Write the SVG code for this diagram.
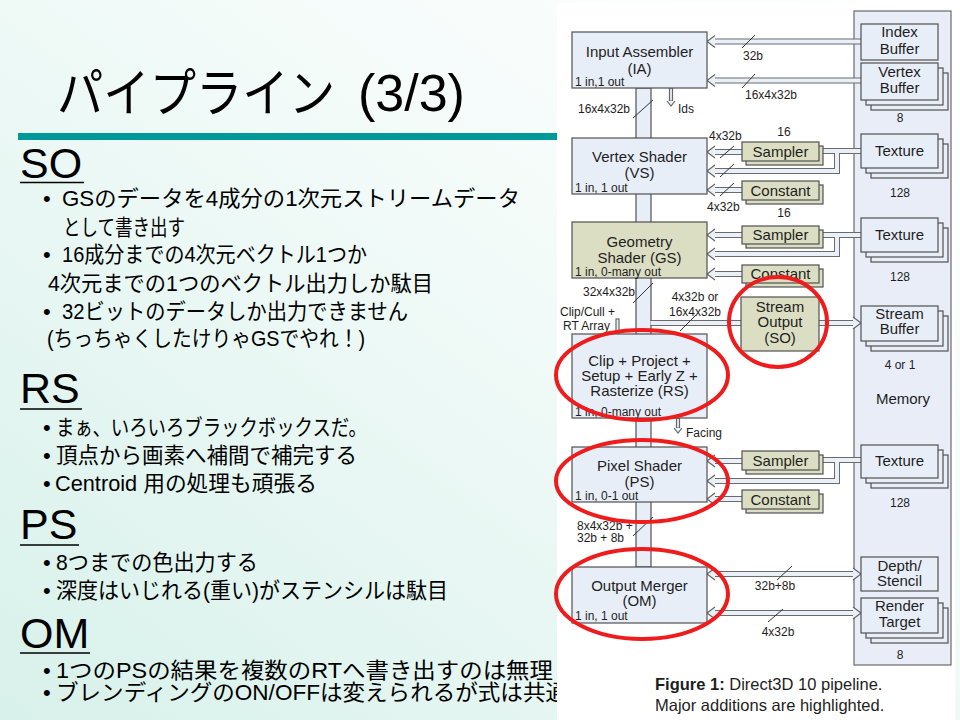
<svg xmlns="http://www.w3.org/2000/svg" width="960" height="720" viewBox="0 0 960 720">
<defs>
  <linearGradient id="bg" x1="1" y1="0" x2="0" y2="1">
    <stop offset="0" stop-color="#ffffff"/>
    <stop offset="0.4" stop-color="#f3fbf9"/>
    <stop offset="1" stop-color="#d8f1ea"/>
  </linearGradient>
  <!-- open arrowhead, tip at origin, pointing left -->
  <path id="ah" d="M8,-6 L0,0 L8,6"/>
  <!-- double-line wire centrelines (stroked twice: dark outer, light inner) -->
  <g id="wires">
    <path d="M861,41.5 H715"/>
    <path d="M861,80.5 H715"/>
    <path d="M742,152 H715"/>
    <path d="M861,151 H815 M837,151 V171 H715"/>
    <path d="M742,190 H715"/>
    <path d="M742,235 H715"/>
    <path d="M861,235 H815 M837,235 V254 H715"/>
    <path d="M742,274 H715"/>
    <path d="M650.5,323 H745"/>
    <path d="M815,323 H853"/>
    <path d="M742,461 H715"/>
    <path d="M861,460 H815 M837,460 V481 H715"/>
    <path d="M742,499 H715"/>
    <path d="M715,574 H853"/>
    <path d="M715,613 H853"/>
  </g>
  <style>
    .jp{font-family:"Liberation Sans","Noto Sans CJK JP",sans-serif;fill:#000}
    .hd1{font-size:43px}
    .bl{font-size:22px}
    .ul{stroke:#000;stroke-width:1.5}
    .d{font-family:"Liberation Sans",Arial,sans-serif;fill:#1e1e1e}
    .box{fill:#e8eef8;stroke:#505050;stroke-width:1.2}
    .kh{fill:#dbdec2;stroke:#505050;stroke-width:1.2}
    .mem{fill:#e8edf7;stroke:#6a6a6a;stroke-width:1.2}
    .lbl{font-size:15px;text-anchor:middle}
    .sm{font-size:12px}
    .mid{text-anchor:middle}
    .slash{stroke:#333;stroke-width:1}
    .head{fill:#eaf0f8;stroke:#666;stroke-width:1.2}
    .ring{fill:none;stroke:#ee1c1c;stroke-width:4}
  </style>
</defs>

<!-- slide background -->
<rect width="960" height="720" fill="url(#bg)"/>

<!-- title -->
<g id="title">
  <text class="jp" x="57" y="112" font-size="52" textLength="278" lengthAdjust="spacingAndGlyphs" font-family="'Noto Sans CJK JP',sans-serif">パイプライン</text>
  <text class="jp" x="358" y="111" font-size="52">(3/3)</text>
  <rect x="18" y="133" width="540" height="7" fill="#009999"/>
</g>

<!-- bullet text -->
<g id="notes" class="jp">
  <text class="hd1" x="20" y="178">SO</text>
  <line class="ul" x1="20" y1="182.5" x2="84" y2="182.5"/>
  <g class="bl">
    <text x="43" y="206">•</text><text x="62" y="206" textLength="458" lengthAdjust="spacingAndGlyphs">GSのデータを4成分の1次元ストリームデータ</text>
    <text x="63" y="235" textLength="122" lengthAdjust="spacingAndGlyphs">として書き出す</text>
    <text x="43" y="262">•</text><text x="62" y="262" textLength="305" lengthAdjust="spacingAndGlyphs">16成分までの4次元ベクトル1つか</text>
    <text x="48" y="291" textLength="385" lengthAdjust="spacingAndGlyphs">4次元までの1つのベクトル出力しか駄目</text>
    <text x="43" y="319">•</text><text x="62" y="319" textLength="346" lengthAdjust="spacingAndGlyphs">32ビットのデータしか出力できません</text>
    <text x="47" y="346" textLength="318" lengthAdjust="spacingAndGlyphs">(ちっちゃくしたけりゃGSでやれ！)</text>
  </g>

  <text class="hd1" x="20" y="403">RS</text>
  <line class="ul" x1="20" y1="409" x2="82" y2="409"/>
  <g class="bl">
    <text x="43" y="435">•</text><text x="56" y="435" textLength="311" lengthAdjust="spacingAndGlyphs">まぁ、いろいろブラックボックスだ。</text>
    <text x="43" y="463">•</text><text x="56" y="463" textLength="301" lengthAdjust="spacingAndGlyphs">頂点から画素へ補間で補完する</text>
    <text x="43" y="491">•</text><text x="55" y="491" textLength="262" lengthAdjust="spacingAndGlyphs">Centroid 用の処理も頑張る</text>
  </g>

  <text class="hd1" x="20" y="539">PS</text>
  <line class="ul" x1="20" y1="545" x2="79" y2="545"/>
  <g class="bl">
    <text x="43" y="570">•</text><text x="56" y="570" textLength="202" lengthAdjust="spacingAndGlyphs">8つまでの色出力する</text>
    <text x="43" y="598">•</text><text x="56" y="598" textLength="392" lengthAdjust="spacingAndGlyphs">深度はいじれる(重い)がステンシルは駄目</text>
  </g>

  <text class="hd1" x="20" y="648">OM</text>
  <line class="ul" x1="20" y1="653" x2="90" y2="653"/>
  <g class="bl">
    <text x="43" y="678">•</text><text x="56" y="678" textLength="497" lengthAdjust="spacingAndGlyphs">1つのPSの結果を複数のRTへ書き出すのは無理</text>
    <text x="43" y="700">•</text><text x="56" y="700" textLength="512" lengthAdjust="spacingAndGlyphs">ブレンディングのON/OFFは変えられるが式は共通</text>
  </g>
</g>

<!-- figure panel -->
<rect x="557" y="3" width="398" height="717" fill="#ffffff"/>

<!-- memory column -->
<g id="memory">
  <rect class="mem" x="854" y="11" width="97" height="654"/>
  <text class="d lbl" x="903" y="404">Memory</text>
</g>

<!-- connectors -->
<g id="connectors">
  <rect class="box" x="636" y="88" width="15" height="479"/>
  <use href="#wires" fill="none" stroke="#6b6b6b" stroke-width="6"/>
  <use href="#wires" fill="none" stroke="#eaf0f8" stroke-width="4"/>
  <!-- arrowheads into pipeline stages -->
  <use href="#ah" class="head" transform="translate(707,41.5)"/>
  <use href="#ah" class="head" transform="translate(707,80.5)"/>
  <use href="#ah" class="head" transform="translate(707,152)"/>
  <use href="#ah" class="head" transform="translate(707,171)"/>
  <use href="#ah" class="head" transform="translate(707,190)"/>
  <use href="#ah" class="head" transform="translate(707,235)"/>
  <use href="#ah" class="head" transform="translate(707,254)"/>
  <use href="#ah" class="head" transform="translate(707,274)"/>
  <use href="#ah" class="head" transform="translate(707,461)"/>
  <use href="#ah" class="head" transform="translate(707,481)"/>
  <use href="#ah" class="head" transform="translate(707,499)"/>
  <use href="#ah" class="head" transform="translate(707,574)"/>
  <use href="#ah" class="head" transform="translate(707,613)"/>
  <!-- arrowheads into memory -->
  <use href="#ah" class="head" transform="translate(861,323) scale(-1,1)"/>
  <use href="#ah" class="head" transform="translate(861,574) scale(-1,1)"/>
  <use href="#ah" class="head" transform="translate(861,613) scale(-1,1)"/>
  <!-- small side signals -->
  <rect class="head" x="669.5" y="88" width="3" height="13"/>
  <path class="head" d="M667,101 L671,106 L675,101"/>
  <rect class="head" x="676.5" y="418" width="3" height="10"/>
  <path class="head" d="M674,428 L678,433 L682,428"/>
  <rect class="head" x="616" y="319" width="3" height="15"/>
  <!-- bus width ticks -->
  <line class="slash" x1="742" y1="48" x2="755" y2="35"/>
  <line class="slash" x1="742" y1="88" x2="755" y2="74"/>
  <line class="slash" x1="633" y1="118" x2="653" y2="100"/>
  <line class="slash" x1="720" y1="158" x2="734" y2="146"/>
  <line class="slash" x1="720" y1="177" x2="734" y2="164"/>
  <line class="slash" x1="720" y1="196" x2="734" y2="183"/>
  <line class="slash" x1="633" y1="303" x2="653" y2="283"/>
  <line class="slash" x1="680" y1="331" x2="696" y2="315"/>
  <line class="slash" x1="633" y1="536" x2="653" y2="517"/>
  <line class="slash" x1="777" y1="580" x2="792" y2="566"/>
  <line class="slash" x1="768" y1="622" x2="783" y2="609"/>
  <!-- wire labels -->
  <g class="d sm">
    <text x="743" y="60">32b</text>
    <text x="745" y="99">16x4x32b</text>
    <text x="578" y="113">16x4x32b</text>
    <text x="678" y="113">Ids</text>
    <text x="784" y="136" class="mid">16</text>
    <text x="709" y="140">4x32b</text>
    <text x="707" y="211">4x32b</text>
    <text x="784" y="217" class="mid">16</text>
    <text x="583" y="296">32x4x32b</text>
    <text x="695" y="301" class="mid">4x32b or</text>
    <text x="695" y="316" class="mid">16x4x32b</text>
    <text x="560" y="316">Clip/Cull +</text>
    <text x="563" y="330">RT Array</text>
    <text x="686" y="437">Facing</text>
    <text x="577" y="530">8x4x32b +</text>
    <text x="577" y="542">32b + 8b</text>
    <text x="775" y="590" class="mid">32b+8b</text>
    <text x="778" y="636" class="mid">4x32b</text>
    <text x="900" y="122" class="mid">8</text>
    <text x="900" y="197" class="mid">128</text>
    <text x="900" y="281" class="mid">128</text>
    <text x="900" y="369" class="mid">4 or 1</text>
    <text x="900" y="507" class="mid">128</text>
    <text x="900" y="659" class="mid">8</text>
  </g>
</g>

<!-- pipeline stages -->
<g id="ia">
  <rect class="box" x="572" y="32" width="135" height="56"/>
  <text class="d lbl" x="639.5" y="57">Input Assembler</text>
  <text class="d lbl" x="639.5" y="74">(IA)</text>
  <text class="d sm" x="575" y="86">1 in,1 out</text>
</g>
<g id="vs">
  <rect class="box" x="572" y="138" width="135" height="56"/>
  <text class="d lbl" x="639.5" y="162">Vertex Shader</text>
  <text class="d lbl" x="639.5" y="178">(VS)</text>
  <text class="d sm" x="575" y="192">1 in, 1 out</text>
</g>
<g id="gs">
  <rect class="kh" x="572" y="222" width="135" height="56"/>
  <text class="d lbl" x="639.5" y="247">Geometry</text>
  <text class="d lbl" x="639.5" y="263">Shader (GS)</text>
  <text class="d sm" x="575" y="276">1 in, 0-many out</text>
</g>
<g id="rs">
  <rect class="box" x="572" y="334" width="135" height="84"/>
  <text class="d lbl" x="639.5" y="366">Clip + Project +</text>
  <text class="d lbl" x="639.5" y="381">Setup + Early Z +</text>
  <text class="d lbl" x="639.5" y="396">Rasterize (RS)</text>
  <text class="d sm" x="575" y="416">1 in, 0-many out</text>
</g>
<g id="ps">
  <rect class="box" x="572" y="447" width="135" height="55"/>
  <text class="d lbl" x="639.5" y="471">Pixel Shader</text>
  <text class="d lbl" x="639.5" y="487">(PS)</text>
  <text class="d sm" x="575" y="500">1 in, 0-1 out</text>
</g>
<g id="om">
  <rect class="box" x="572" y="567" width="135" height="56"/>
  <text class="d lbl" x="639.5" y="591">Output Merger</text>
  <text class="d lbl" x="639.5" y="606">(OM)</text>
  <text class="d sm" x="575" y="620">1 in, 1 out</text>
</g>
<g id="so">
  <rect class="kh" x="741" y="297" width="78" height="54"/>
  <text class="d lbl" x="780" y="312">Stream</text>
  <text class="d lbl" x="780" y="327">Output</text>
  <text class="d lbl" x="780" y="343">(SO)</text>
</g>

<!-- samplers and constants -->
<g id="vs-sampler">
  <rect class="kh" x="746" y="146" width="77" height="19"/>
  <rect class="kh" x="742" y="142" width="77" height="19"/>
  <text class="d lbl" x="780.5" y="157">Sampler</text>
</g>
<g id="vs-constant">
  <rect class="kh" x="746" y="185" width="77" height="19"/>
  <rect class="kh" x="742" y="181" width="77" height="19"/>
  <text class="d lbl" x="780.5" y="196">Constant</text>
</g>
<g id="gs-sampler">
  <rect class="kh" x="746" y="230" width="77" height="18"/>
  <rect class="kh" x="742" y="226" width="77" height="18"/>
  <text class="d lbl" x="780.5" y="240">Sampler</text>
</g>
<g id="gs-constant">
  <rect class="kh" x="746" y="269" width="77" height="18"/>
  <rect class="kh" x="742" y="265" width="77" height="18"/>
  <text class="d lbl" x="780.5" y="279">Constant</text>
</g>
<g id="ps-sampler">
  <rect class="kh" x="746" y="455" width="77" height="19"/>
  <rect class="kh" x="742" y="451" width="77" height="19"/>
  <text class="d lbl" x="780.5" y="466">Sampler</text>
</g>
<g id="ps-constant">
  <rect class="kh" x="746" y="494" width="77" height="19"/>
  <rect class="kh" x="742" y="490" width="77" height="19"/>
  <text class="d lbl" x="780.5" y="505">Constant</text>
</g>

<!-- memory resources -->
<g id="index-buffer">
  <rect class="box" x="861" y="24" width="77" height="36"/>
  <text class="d lbl" x="899.5" y="37">Index</text>
  <text class="d lbl" x="899.5" y="54">Buffer</text>
</g>
<g id="vertex-buffer">
  <rect class="box" x="871" y="73" width="77" height="37"/>
  <rect class="box" x="866" y="68" width="77" height="37"/>
  <rect class="box" x="861" y="63" width="77" height="37"/>
  <text class="d lbl" x="899.5" y="77">Vertex</text>
  <text class="d lbl" x="899.5" y="93">Buffer</text>
</g>
<g id="vs-texture">
  <rect class="box" x="871" y="144" width="77" height="34"/>
  <rect class="box" x="866" y="139" width="77" height="34"/>
  <rect class="box" x="861" y="134" width="77" height="34"/>
  <text class="d lbl" x="899.5" y="156">Texture</text>
</g>
<g id="gs-texture">
  <rect class="box" x="871" y="228" width="77" height="34"/>
  <rect class="box" x="866" y="223" width="77" height="34"/>
  <rect class="box" x="861" y="218" width="77" height="34"/>
  <text class="d lbl" x="899.5" y="240">Texture</text>
</g>
<g id="stream-buffer">
  <rect class="box" x="871" y="316" width="77" height="35"/>
  <rect class="box" x="866" y="311" width="77" height="35"/>
  <rect class="box" x="861" y="306" width="77" height="35"/>
  <text class="d lbl" x="899.5" y="319">Stream</text>
  <text class="d lbl" x="899.5" y="334">Buffer</text>
</g>
<g id="ps-texture">
  <rect class="box" x="871" y="455" width="77" height="33"/>
  <rect class="box" x="866" y="450" width="77" height="33"/>
  <rect class="box" x="861" y="445" width="77" height="33"/>
  <text class="d lbl" x="899.5" y="466">Texture</text>
</g>
<g id="depth-stencil">
  <rect class="box" x="861" y="557" width="77" height="34"/>
  <text class="d lbl" x="899.5" y="571">Depth/</text>
  <text class="d lbl" x="899.5" y="586">Stencil</text>
</g>
<g id="render-target">
  <rect class="box" x="871" y="608" width="77" height="35"/>
  <rect class="box" x="866" y="603" width="77" height="35"/>
  <rect class="box" x="861" y="598" width="77" height="35"/>
  <text class="d lbl" x="899.5" y="611">Render</text>
  <text class="d lbl" x="899.5" y="627">Target</text>
</g>

<!-- caption -->
<g id="caption" class="d" font-size="16.5" fill="#111">
  <text x="655" y="690"><tspan font-weight="bold">Figure 1:</tspan> Direct3D 10 pipeline.</text>
  <text x="655" y="711">Major additions are highlighted.</text>
</g>

<!-- red highlight rings -->
<g id="highlights">
  <ellipse class="ring" cx="778" cy="322" rx="49" ry="45"/>
  <ellipse class="ring" cx="642" cy="375" rx="86" ry="45"/>
  <ellipse class="ring" cx="642" cy="481" rx="86" ry="41"/>
  <ellipse class="ring" cx="642" cy="594" rx="86" ry="45"/>
</g>
</svg>
